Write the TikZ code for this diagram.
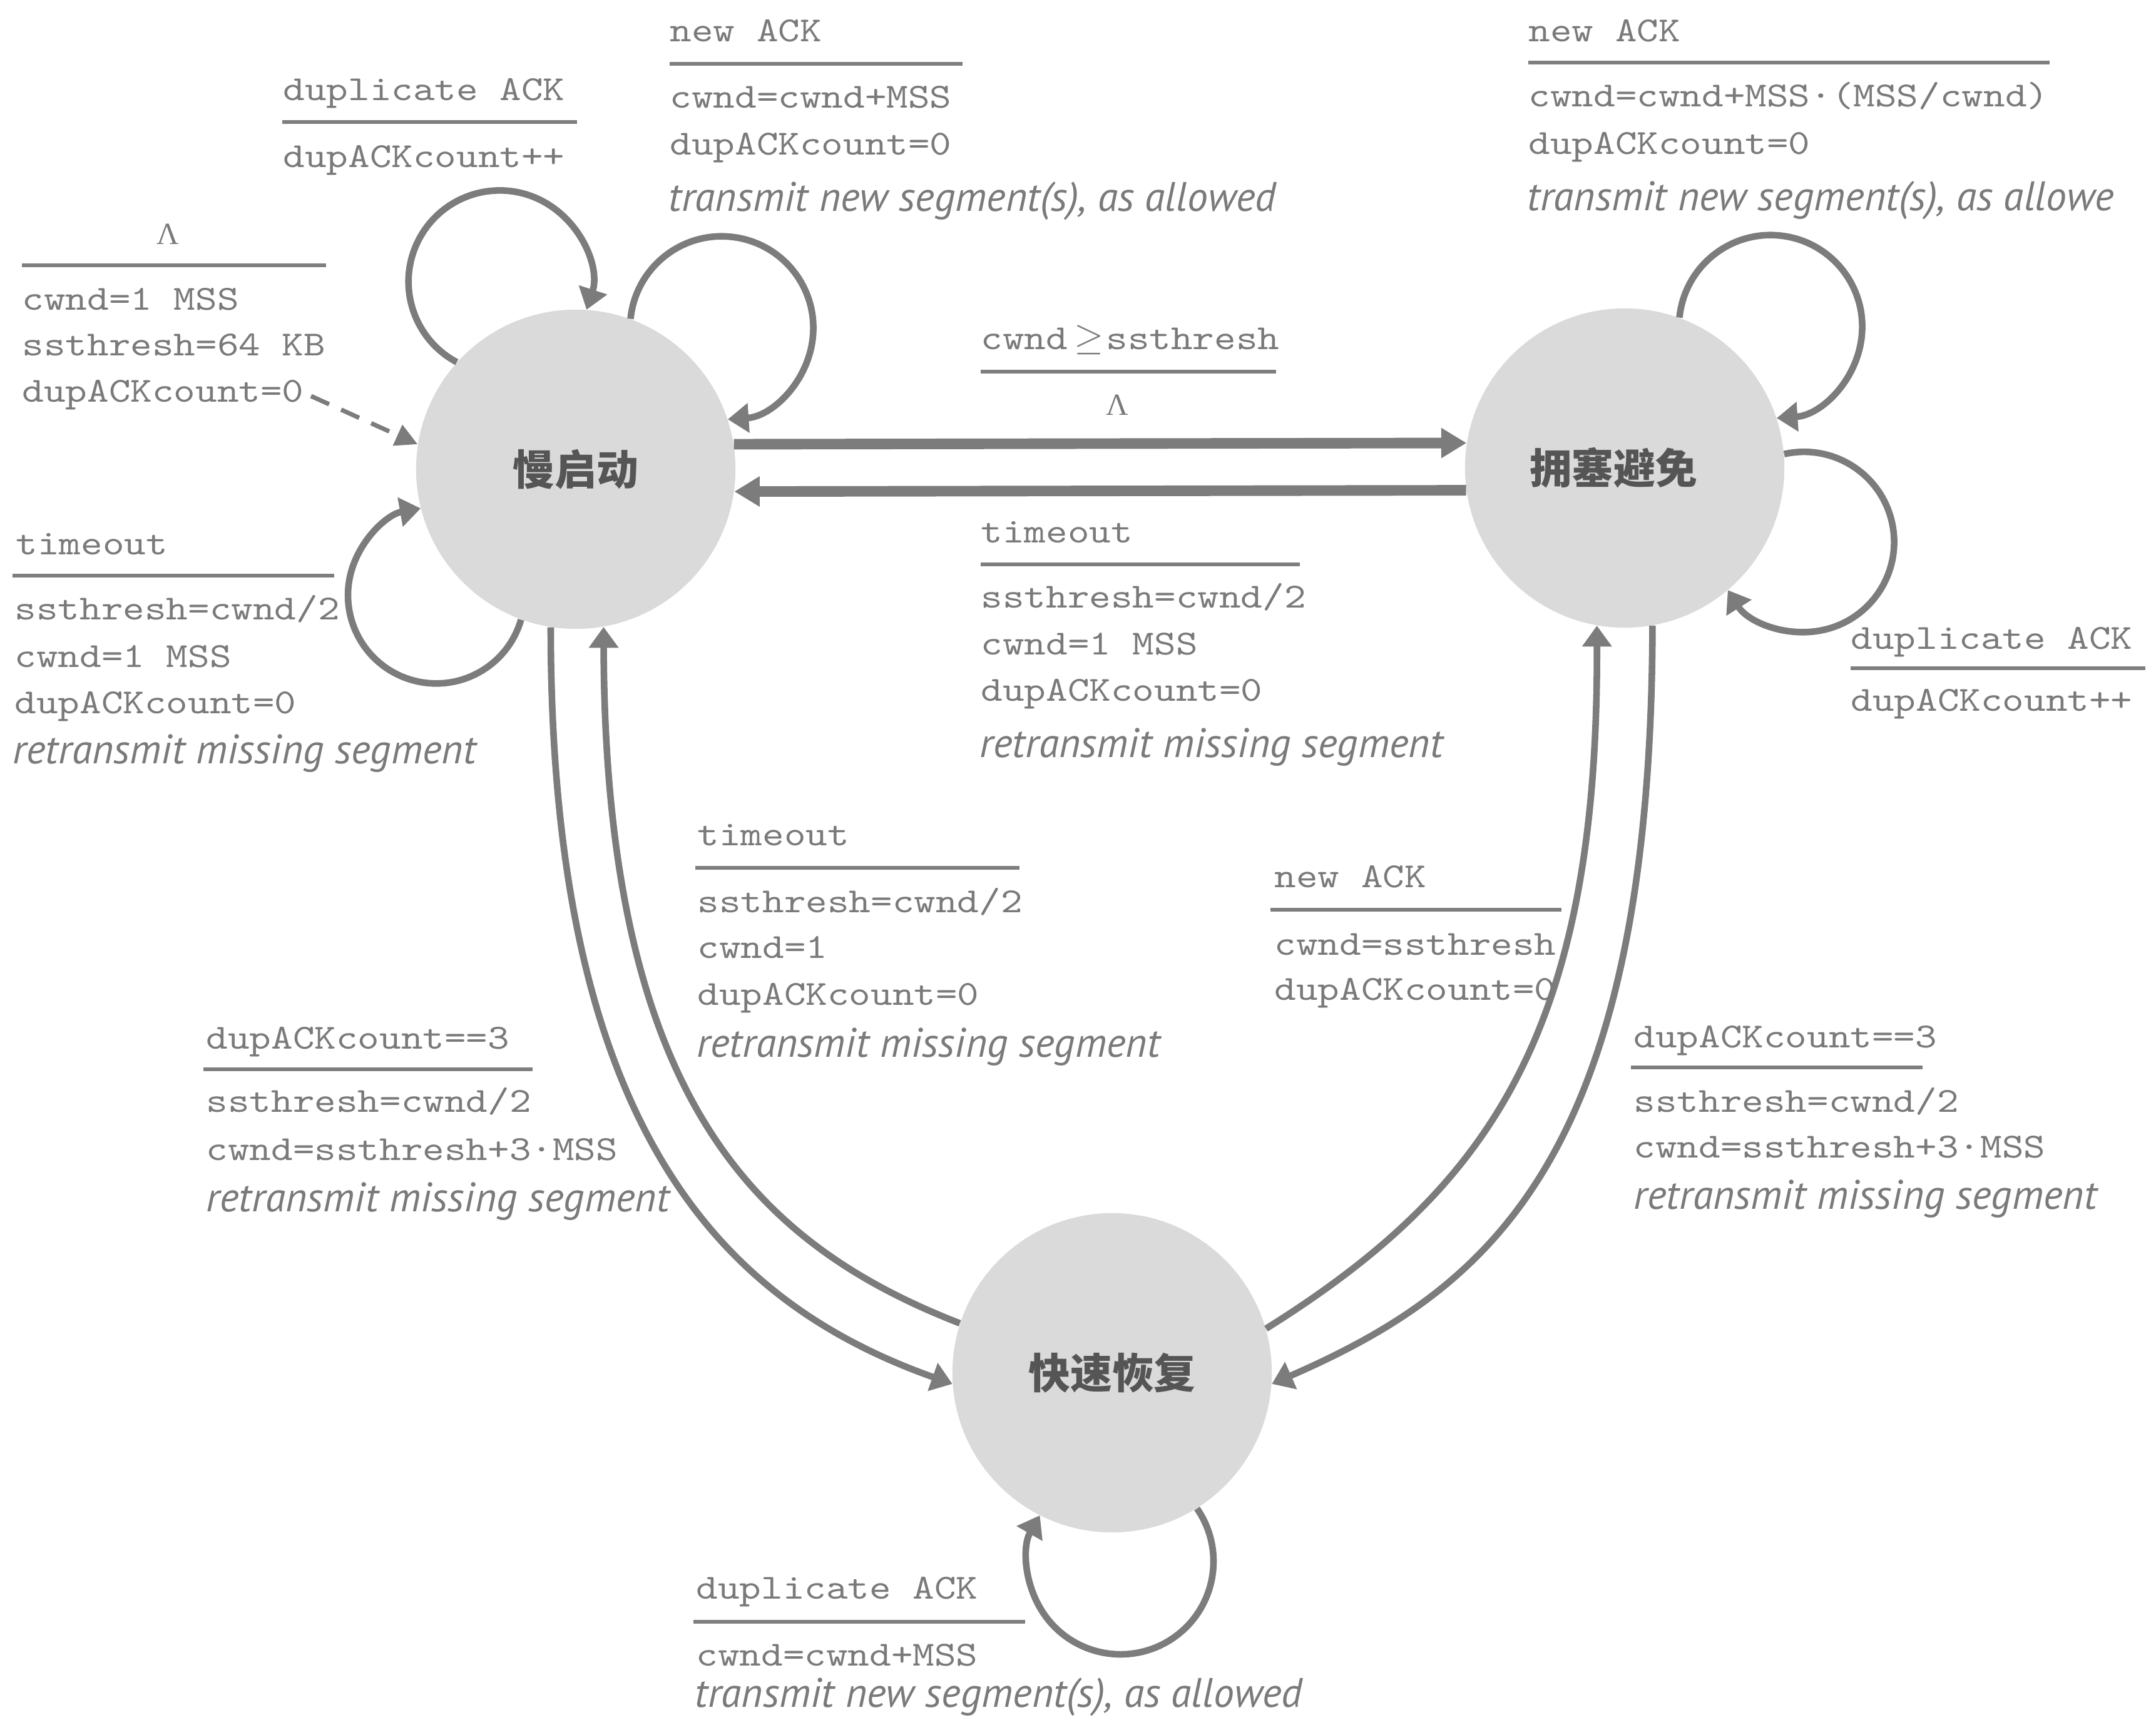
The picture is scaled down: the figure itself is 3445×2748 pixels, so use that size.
\documentclass[tikz,border=0pt]{standalone}
\usepackage{fontspec}
\usetikzlibrary{arrows.meta}
\newfontfamily\monof{lmmono10-regular.otf}[FakeStretch=1.17]
\newfontfamily\itf{PT Sans}
\newfontfamily\serf{Liberation Serif}
\newfontfamily\cjkf{Noto Sans CJK SC}
\definecolor{txt}{HTML}{7A7A7A}
\definecolor{rulec}{HTML}{7E7E7E}
\definecolor{arrc}{HTML}{7C7C7C}
\definecolor{statefill}{HTML}{DADADA}
\definecolor{cjkc}{HTML}{555555}
\newlength\itw
\newlength\monow
\settowidth\itw{\itf\itshape\fontsize{10pt}{12pt}\selectfont retransmit missing segment}
\settowidth\monow{\monof\fontsize{10pt}{12pt}\selectfont 0}
\pgfmathsetmacro\itsz{10*210.5/\itw}
\pgfmathsetmacro\monosz{10*9.84/\monow}
\begin{document}
\begin{tikzpicture}[x=0.01cm, y=-0.01cm,
  mono/.style={font=\monof\fontsize{\monosz}{20}\selectfont, text=txt, inner sep=0pt, anchor=base west},
  ital/.style={font=\itf\itshape\fontsize{\itsz}{20}\selectfont, text=txt, inner sep=0pt, anchor=base west},
  lam/.style={font=\serf\fontsize{14}{16}\selectfont, text=txt, inner sep=0pt, anchor=base},
  rulel/.style={draw=rulec, line width=1.5pt},
  state/.style={circle, fill=statefill, minimum size=5.1cm, inner sep=0pt, font=\cjkf\bfseries\fontsize{19}{21}\selectfont, text=cjkc},
  loopar/.style={draw=arrc, line width=3pt, -{Triangle[length=9.5pt,width=13pt]}},
  thickar/.style={draw=arrc, line width=4.8pt, -{Triangle[length=11.5pt,width=13pt]}},
  dasharr/.style={draw=arrc, line width=2pt, dash pattern=on 9pt off 6pt, -{Triangle[length=10pt,width=10pt]}}
]
\fill[white] (0,0) rectangle (3445,2748);
\useasboundingbox (0,0) rectangle (3445,2748);

% states
\node[state] (A) at (920,750) {慢启动};
\node[state] (B) at (2596,748) {拥塞避免\kern10pt};
\node[state] (C) at (1777,2194) {快速恢复};

% horizontal transitions
\draw[thickar] (A.9) -- (B.171);
\draw[thickar] (B.188) -- (A.352);

% long transitions
\draw[loopar] (A.261) .. controls (880,1800) and (1150,2080) .. (C.184);
\draw[loopar] (C.162) .. controls (1203,1986) and (967,1750) .. (A.280);
\draw[loopar] (C.16) .. controls (2380,1900) and (2554,1650) .. (B.260);
\draw[loopar] (B.280) .. controls (2638,1850) and (2380,2060) .. (C.356);

% self loops (circular arcs from anchor to anchor)
\draw[loopar] (A.138) arc[start angle=-241.9, end angle=17.9, radius=145.8];
\draw[loopar] (A.70) arc[start angle=-174.3, end angle=86.2, radius=146.4];
\draw[loopar] (A.250) arc[start angle=16.1, end angle=259.9, radius=141.0];
\draw[loopar] (B.70) arc[start angle=-174.3, end angle=86.2, radius=146.4];
\draw[loopar] (B.5) arc[start angle=-102.7, end angle=147.7, radius=144.0];
\draw[loopar] (C.302) arc[start angle=-34.7, end angle=209.7, radius=148.5];

% initial
\node[lam] (i0) at (268,390) {Λ};
\draw[rulel] (35,424) -- (521,424);
\node[mono] (i1) at (35,495) {cwnd=1 MSS};
\node[mono] (i2) at (35,568) {ssthresh=64 KB};
\node[mono] (i3) at (35,642) {dupACKcount=0};
\coordinate (d0) at (497,633);
\draw[dasharr] (d0) -- (A.171);

% slow start: duplicate ACK
\node[mono] (a1e) at (452,160) {duplicate ACK};
\draw[rulel] (451,195) -- (922,195);
\node[mono] (a1a) at (452,267) {dupACKcount++};

% slow start: new ACK
\node[mono] (a2e) at (1070,66) {new ACK};
\draw[rulel] (1070,102) -- (1538,102);
\node[mono] (a2a) at (1070,172) {cwnd=cwnd+MSS};
\node[mono] (a2b) at (1070,247) {dupACKcount=0};
\node[ital] (a2c) at (1068,337) {transmit new segment(s), as allowed};

% slow start: timeout
\node[mono] (a3e) at (25,886) {timeout};
\draw[rulel] (20,920) -- (534,920);
\node[mono] (a3a) at (23,990) {ssthresh=cwnd/2};
\node[mono] (a3b) at (23,1066) {cwnd=1 MSS};
\node[mono] (a3c) at (23,1140) {dupACKcount=0};
\node[ital] (a3d) at (20,1220) {retransmit missing segment};

% slow start -> congestion avoidance
\node[mono] (abe) at (1567,558) {cwnd\hspace{3pt}$\geq$\hspace{1pt}ssthresh};
\draw[rulel] (1567,594) -- (2039,594);
\node[lam] (aba) at (1785,663) {Λ};

% congestion avoidance -> slow start
\node[mono] (bae) at (1567,867) {timeout};
\draw[rulel] (1567,902) -- (2077,902);
\node[mono] (baa) at (1567,971) {ssthresh=cwnd/2};
\node[mono] (bab) at (1567,1046) {cwnd=1 MSS};
\node[mono] (bac) at (1567,1120) {dupACKcount=0};
\node[ital] (bad) at (1565,1210) {retransmit missing segment};

% congestion avoidance: new ACK
\node[mono] (b4e) at (2442,67) {new ACK};
\draw[rulel] (2442,100) -- (3275,100);
\node[mono] (b4a) at (2442,170) {cwnd=cwnd+MSS·(MSS/cwnd)};
\node[mono] (b4b) at (2442,246) {dupACKcount=0};
\node[ital] (b4c) at (2440,336) {transmit new segment(s), as allowe};

% congestion avoidance: duplicate ACK
\node[mono] (b5e) at (2957,1037) {duplicate ACK};
\draw[rulel] (2957,1068) -- (3428,1068);
\node[mono] (b5a) at (2957,1136) {dupACKcount++};

% slow start -> fast recovery
\node[mono] (ace) at (329,1676) {dupACKcount==3};
\draw[rulel] (325,1709) -- (851,1709);
\node[mono] (aca) at (329,1777) {ssthresh=cwnd/2};
\node[mono] (acb) at (329,1854) {cwnd=ssthresh+3·MSS};
\node[ital] (acc) at (329,1936) {retransmit missing segment};

% fast recovery -> slow start
\node[mono] (cae) at (1114,1351) {timeout};
\draw[rulel] (1111,1387) -- (1629,1387);
\node[mono] (caa) at (1114,1458) {ssthresh=cwnd/2};
\node[mono] (cab) at (1114,1531) {cwnd=1};
\node[mono] (cac) at (1114,1606) {dupACKcount=0};
\node[ital] (cad) at (1113,1689) {retransmit missing segment};

% fast recovery -> congestion avoidance
\node[mono] (cbe) at (2036,1418) {new ACK};
\draw[rulel] (2030,1454) -- (2495,1454);
\node[mono] (cba) at (2036,1526) {cwnd=ssthresh};
\node[mono] (cbb) at (2036,1598) {dupACKcount=0};

% congestion avoidance -> fast recovery
\node[mono] (bce) at (2610,1674) {dupACKcount==3};
\draw[rulel] (2606,1706) -- (3072,1706);
\node[mono] (bca) at (2610,1777) {ssthresh=cwnd/2};
\node[mono] (bcb) at (2610,1850) {cwnd=ssthresh+3·MSS};
\node[ital] (bcc) at (2610,1932) {retransmit missing segment};

% fast recovery: duplicate ACK
\node[mono] (c6e) at (1112,2555) {duplicate ACK};
\draw[rulel] (1108,2592) -- (1638,2592);
\node[mono] (c6a) at (1112,2662) {cwnd=cwnd+MSS};
\node[ital] (c6b) at (1110,2728) {transmit new segment(s), as allowed};
\end{tikzpicture}
\end{document}
